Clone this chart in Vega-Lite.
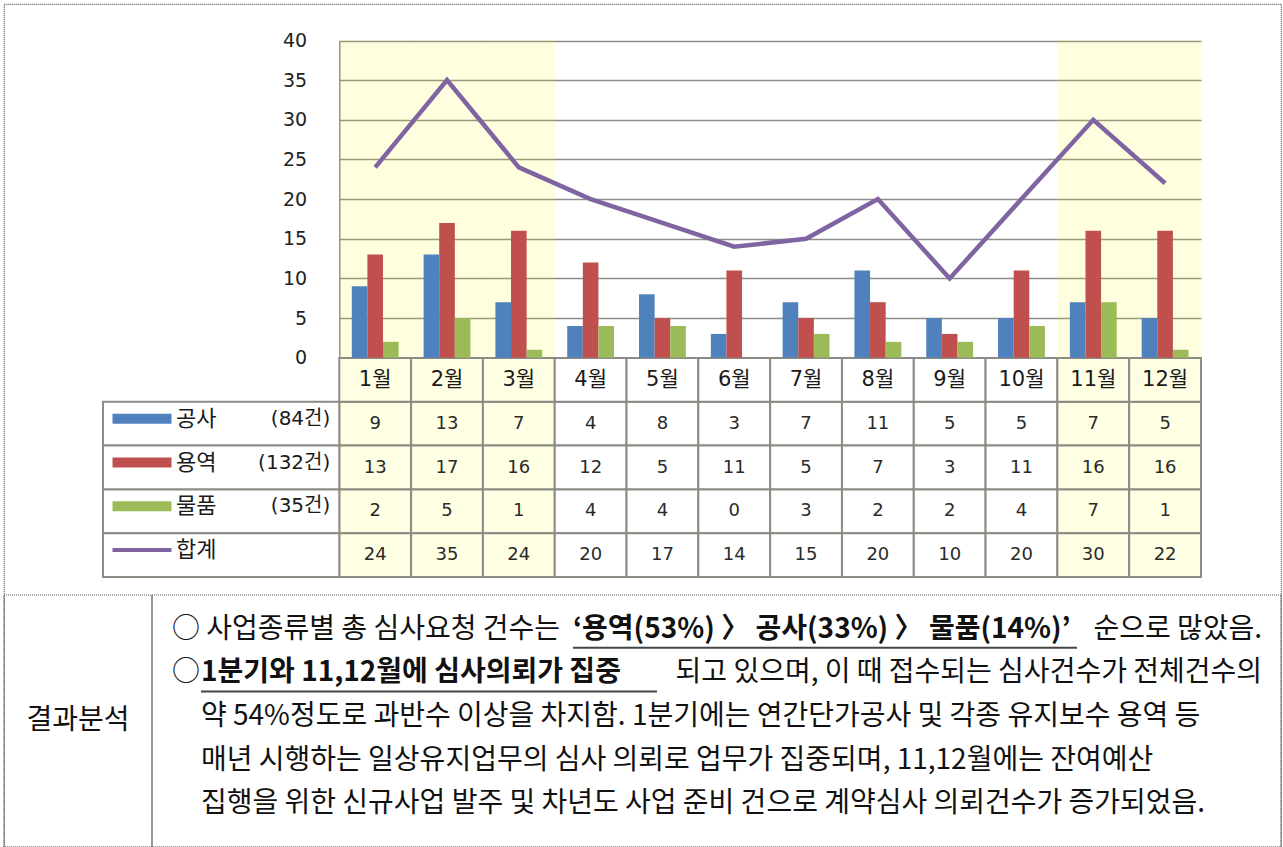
{
  "$schema": "https://vega.github.io/schema/vega-lite/v6.json",
  "width": 1277,
  "height": 843,
  "padding": {"left": 4, "top": 4, "right": 2, "bottom": 0},
  "autosize": {"type": "none"},
  "background": "#FFFFFF",
  "view": {"stroke": "#555555", "strokeDash": [1, 1], "strokeWidth": 1.2},
  "config": {"font": "DejaVu Sans"},
  "datasets": {
    "monthly": [
      {"month": "1월", "focus": "Y", "공사": 9, "용역": 13, "물품": 2, "합계": 24},
      {"month": "2월", "focus": "Y", "공사": 13, "용역": 17, "물품": 5, "합계": 35},
      {"month": "3월", "focus": "Y", "공사": 7, "용역": 16, "물품": 1, "합계": 24},
      {"month": "4월", "focus": "N", "공사": 4, "용역": 12, "물품": 4, "합계": 20},
      {"month": "5월", "focus": "N", "공사": 8, "용역": 5, "물품": 4, "합계": 17},
      {"month": "6월", "focus": "N", "공사": 3, "용역": 11, "물품": 0, "합계": 14},
      {"month": "7월", "focus": "N", "공사": 7, "용역": 5, "물품": 3, "합계": 15},
      {"month": "8월", "focus": "N", "공사": 11, "용역": 7, "물품": 2, "합계": 20},
      {"month": "9월", "focus": "N", "공사": 5, "용역": 3, "물품": 2, "합계": 10},
      {"month": "10월", "focus": "N", "공사": 5, "용역": 11, "물품": 4, "합계": 20},
      {"month": "11월", "focus": "Y", "공사": 7, "용역": 16, "물품": 7, "합계": 30},
      {"month": "12월", "focus": "Y", "공사": 5, "용역": 16, "물품": 1, "합계": 22}
    ],
    "legend": [
      {"type": "공사", "name": "공사", "total": "(84건)"},
      {"type": "용역", "name": "용역", "total": "(132건)"},
      {"type": "물품", "name": "물품", "total": "(35건)"},
      {"type": "합계", "name": "합계", "total": ""}
    ],
    "analysis": [{"item": "결과분석"}],
    "sentences": [
      {"line": 1, "part": "1a", "text": "○ 사업종류별 총 심사요청 건수는"},
      {"line": 1, "part": "1b", "text": "‘용역(53%) 〉 공사(33%) 〉 물품(14%)’"},
      {"line": 1, "part": "1c", "text": "순으로 많았음."},
      {"line": 2, "part": "2a", "text": "○"},
      {"line": 2, "part": "2b", "text": "1분기와 11,12월에 심사의뢰가 집중"},
      {"line": 2, "part": "2c", "text": "되고 있으며, 이 때 접수되는 심사건수가 전체건수의"},
      {"line": 3, "part": "3", "text": "약 54%정도로 과반수 이상을 차지함. 1분기에는 연간단가공사 및 각종 유지보수 용역 등"},
      {"line": 4, "part": "4", "text": "매년 시행하는 일상유지업무의 심사 의뢰로 업무가 집중되며, 11,12월에는 잔여예산"},
      {"line": 5, "part": "5", "text": "집행을 위한 신규사업 발주 및 차년도 사업 준비 건으로 계약심사 의뢰건수가 증가되었음."}
    ]
  },
  "resolve": {"scale": {"x": "independent", "y": "independent", "color": "independent", "xOffset": "independent"}},
  "layer": [
    {
      "data": {"name": "monthly"},
      "transform": [{"filter": "datum.focus === 'Y'"}],
      "mark": {"type": "rect", "fill": "#FFFF00", "fillOpacity": 0.12},
      "encoding": {
        "x": {"field": "month", "type": "ordinal", "scale": {"type": "band", "domain": ["1월","2월","3월","4월","5월","6월","7월","8월","9월","10월","11월","12월"], "range": [335.3, 1197], "paddingInner": 0, "paddingOuter": 0}, "axis": null},
        "y": {"datum": 0, "type": "quantitative", "scale": {"domain": [0, 40], "range": [353.7, 36.5]}, "axis": null},
        "y2": {"datum": 40}
      }
    },
    {
      "data": {"name": "monthly"},
      "transform": [{"fold": ["공사", "용역", "물품", "합계"], "as": ["type", "count"]}],
      "mark": {"type": "rect", "stroke": "#8C8C84", "strokeWidth": 2},
      "encoding": {
        "x": {"field": "month", "type": "ordinal", "scale": {"type": "band", "domain": ["1월","2월","3월","4월","5월","6월","7월","8월","9월","10월","11월","12월"], "range": [335.3, 1197], "paddingInner": 0, "paddingOuter": 0}, "axis": null},
        "y": {"field": "type", "type": "nominal", "scale": {"type": "band", "domain": ["월","공사","용역","물품","합계"], "range": [354, 573], "paddingInner": 0, "paddingOuter": 0}, "axis": null},
        "color": {"field": "focus", "type": "nominal", "scale": {"domain": ["Y", "N"], "range": ["#FFFFE3", "#FFFFFF"]}, "legend": null}
      }
    },
    {
      "data": {"name": "monthly"},
      "mark": {"type": "rect", "stroke": "#8C8C84", "strokeWidth": 2},
      "encoding": {
        "x": {"field": "month", "type": "ordinal", "scale": {"type": "band", "domain": ["1월","2월","3월","4월","5월","6월","7월","8월","9월","10월","11월","12월"], "range": [335.3, 1197], "paddingInner": 0, "paddingOuter": 0}, "axis": null},
        "y": {"datum": "월", "type": "nominal", "scale": {"type": "band", "domain": ["월","공사","용역","물품","합계"], "range": [354, 573], "paddingInner": 0, "paddingOuter": 0}, "axis": null},
        "color": {"field": "focus", "type": "nominal", "scale": {"domain": ["Y", "N"], "range": ["#FFFFE3", "#FFFFFF"]}, "legend": null}
      }
    },
    {
      "data": {"name": "legend"},
      "mark": {"type": "rect", "fill": "#FFFFFF", "stroke": "#8C8C84", "strokeWidth": 2},
      "encoding": {
        "x": {"datum": "범례", "type": "nominal", "scale": {"type": "band", "domain": ["범례"], "range": [99, 335.3], "paddingInner": 0, "paddingOuter": 0}, "axis": null},
        "y": {"field": "type", "type": "nominal", "scale": {"type": "band", "domain": ["월","공사","용역","물품","합계"], "range": [354, 573], "paddingInner": 0, "paddingOuter": 0}, "axis": null}
      }
    },
    {
      "data": {"name": "monthly"},
      "transform": [{"fold": ["공사", "용역", "물품"], "as": ["type", "count"]}],
      "mark": {"type": "bar"},
      "encoding": {
        "x": {"field": "month", "type": "ordinal", "scale": {"type": "band", "domain": ["1월","2월","3월","4월","5월","6월","7월","8월","9월","10월","11월","12월"], "range": [335.3, 1197], "paddingInner": 0, "paddingOuter": 0}, "axis": null},
        "xOffset": {"field": "type", "type": "nominal", "scale": {"type": "band", "domain": ["공사", "용역", "물품"], "paddingInner": 0, "paddingOuter": 0.8}},
        "y": {
          "field": "count", "type": "quantitative",
          "scale": {"domain": [0, 40], "range": [353.7, 36.5]},
          "axis": {"values": [0, 5, 10, 15, 20, 25, 30, 35, 40], "grid": true, "gridColor": "#8C8C8C", "gridWidth": 1.5, "domain": true, "domainColor": "#8C8C8C", "domainWidth": 1.5, "ticks": false, "labelPadding": 32.6, "offset": -335.3, "labelFont": "DejaVu Sans", "labelFontSize": 19, "labelColor": "#222222", "title": null}
        },
        "color": {"field": "type", "type": "nominal", "scale": {"domain": ["공사", "용역", "물품"], "range": ["#4F81BD", "#C0504D", "#9BBB59"]}, "legend": null}
      }
    },
    {
      "data": {"name": "monthly"},
      "mark": {"type": "line", "color": "#8064A2", "strokeWidth": 4.5},
      "encoding": {
        "x": {"field": "month", "type": "ordinal", "scale": {"type": "band", "domain": ["1월","2월","3월","4월","5월","6월","7월","8월","9월","10월","11월","12월"], "range": [335.3, 1197], "paddingInner": 0, "paddingOuter": 0}, "axis": null},
        "y": {"field": "합계", "type": "quantitative", "scale": {"domain": [0, 40], "range": [353.7, 36.5]}, "axis": null}
      }
    },
    {
      "data": {"name": "monthly"},
      "mark": {"type": "text", "font": "DejaVu Sans, Noto Sans CJK KR", "fontSize": 21, "color": "#1A1A1A", "baseline": "middle"},
      "encoding": {
        "x": {"field": "month", "type": "ordinal", "scale": {"type": "band", "domain": ["1월","2월","3월","4월","5월","6월","7월","8월","9월","10월","11월","12월"], "range": [335.3, 1197], "paddingInner": 0, "paddingOuter": 0}, "axis": null},
        "y": {"datum": "월", "type": "nominal", "scale": {"type": "band", "domain": ["월","공사","용역","물품","합계"], "range": [354, 573], "paddingInner": 0, "paddingOuter": 0}, "axis": null},
        "text": {"field": "month"}
      }
    },
    {
      "data": {"name": "monthly"},
      "transform": [{"fold": ["공사", "용역", "물품", "합계"], "as": ["type", "count"]}],
      "mark": {"type": "text", "font": "DejaVu Sans", "fontSize": 18, "color": "#2A2A2A", "baseline": "middle"},
      "encoding": {
        "x": {"field": "month", "type": "ordinal", "scale": {"type": "band", "domain": ["1월","2월","3월","4월","5월","6월","7월","8월","9월","10월","11월","12월"], "range": [335.3, 1197], "paddingInner": 0, "paddingOuter": 0}, "axis": null},
        "y": {"field": "type", "type": "nominal", "scale": {"type": "band", "domain": ["월","공사","용역","물품","합계"], "range": [354, 573], "paddingInner": 0, "paddingOuter": 0}, "axis": null},
        "text": {"field": "count", "type": "quantitative"}
      }
    },
    {
      "data": {"name": "legend"},
      "transform": [{"filter": "datum.type !== '합계'"}],
      "mark": {"type": "tick", "orient": "horizontal", "size": 59, "thickness": 10, "xOffset": -79.15, "yOffset": -5, "opacity": 1},
      "encoding": {
        "x": {"datum": "범례", "type": "nominal", "scale": {"type": "band", "domain": ["범례"], "range": [99, 335.3], "paddingInner": 0, "paddingOuter": 0}, "axis": null},
        "y": {"field": "type", "type": "nominal", "scale": {"type": "band", "domain": ["월","공사","용역","물품","합계"], "range": [354, 573], "paddingInner": 0, "paddingOuter": 0}, "axis": null},
        "color": {"field": "type", "type": "nominal", "scale": {"domain": ["공사", "용역", "물품"], "range": ["#4F81BD", "#C0504D", "#9BBB59"]}, "legend": null}
      }
    },
    {
      "data": {"name": "legend"},
      "transform": [{"filter": "datum.type === '합계'"}],
      "mark": {"type": "tick", "orient": "horizontal", "size": 59, "thickness": 4, "xOffset": -79.15, "yOffset": -5, "opacity": 1, "color": "#8064A2"},
      "encoding": {
        "x": {"datum": "범례", "type": "nominal", "scale": {"type": "band", "domain": ["범례"], "range": [99, 335.3], "paddingInner": 0, "paddingOuter": 0}, "axis": null},
        "y": {"field": "type", "type": "nominal", "scale": {"type": "band", "domain": ["월","공사","용역","물품","합계"], "range": [354, 573], "paddingInner": 0, "paddingOuter": 0}, "axis": null}
      }
    },
    {
      "data": {"name": "legend"},
      "mark": {"type": "text", "font": "DejaVu Sans, Noto Sans CJK KR", "fontSize": 22, "color": "#1A1A1A", "baseline": "middle", "align": "left", "dx": 73, "dy": -5},
      "encoding": {
        "x": {"datum": "범례", "type": "nominal", "bandPosition": 0, "scale": {"type": "band", "domain": ["범례"], "range": [99, 335.3], "paddingInner": 0, "paddingOuter": 0}, "axis": null},
        "y": {"field": "type", "type": "nominal", "scale": {"type": "band", "domain": ["월","공사","용역","물품","합계"], "range": [354, 573], "paddingInner": 0, "paddingOuter": 0}, "axis": null},
        "text": {"field": "name"}
      }
    },
    {
      "data": {"name": "legend"},
      "mark": {"type": "text", "font": "DejaVu Sans, Noto Sans CJK KR", "fontSize": 20, "color": "#1A1A1A", "baseline": "middle", "align": "right", "dx": -9, "dy": -5},
      "encoding": {
        "x": {"datum": "범례", "type": "nominal", "bandPosition": 1, "scale": {"type": "band", "domain": ["범례"], "range": [99, 335.3], "paddingInner": 0, "paddingOuter": 0}, "axis": null},
        "y": {"field": "type", "type": "nominal", "scale": {"type": "band", "domain": ["월","공사","용역","물품","합계"], "range": [354, 573], "paddingInner": 0, "paddingOuter": 0}, "axis": null},
        "text": {"field": "total"}
      }
    },
    {
      "data": {"name": "analysis"},
      "mark": {"type": "rect", "fill": "transparent", "stroke": "#555555", "strokeDash": [1, 1], "strokeWidth": 1.2},
      "encoding": {
        "x": {"field": "item", "type": "nominal", "scale": {"type": "band", "domain": ["결과분석"], "range": [0, 148], "paddingInner": 0, "paddingOuter": 0}, "axis": null},
        "y": {"field": "item", "type": "nominal", "scale": {"type": "band", "domain": ["결과분석"], "range": [591, 843], "paddingInner": 0, "paddingOuter": 0}, "axis": null}
      }
    },
    {
      "data": {"name": "analysis"},
      "mark": {"type": "rect", "fill": "transparent", "stroke": "#555555", "strokeDash": [1, 1], "strokeWidth": 1.2},
      "encoding": {
        "x": {"field": "item", "type": "nominal", "scale": {"type": "band", "domain": ["결과분석"], "range": [148, 1277], "paddingInner": 0, "paddingOuter": 0}, "axis": null},
        "y": {"field": "item", "type": "nominal", "scale": {"type": "band", "domain": ["결과분석"], "range": [591, 843], "paddingInner": 0, "paddingOuter": 0}, "axis": null}
      }
    },
    {
      "data": {"name": "analysis"},
      "mark": {"type": "text", "font": "Noto Sans CJK KR", "fontSize": 28, "color": "#111111", "baseline": "middle"},
      "encoding": {
        "x": {"field": "item", "type": "nominal", "scale": {"type": "band", "domain": ["결과분석"], "range": [0, 148], "paddingInner": 0, "paddingOuter": 0}, "axis": null},
        "y": {"field": "item", "type": "nominal", "scale": {"type": "band", "domain": ["결과분석"], "range": [591, 843], "paddingInner": 0, "paddingOuter": 0}, "axis": null},
        "text": {"field": "item"}
      }
    },
    {
      "data": {"name": "sentences"},
      "transform": [{"filter": {"field": "part", "oneOf": ["1a", "2a"]}}],
      "mark": {"type": "text", "font": "Noto Sans CJK KR", "fontSize": 28, "color": "#111111", "baseline": "middle", "align": "left", "dx": -470.5},
      "encoding": {
        "y": {"field": "line", "type": "ordinal", "scale": {"type": "band", "domain": [1, 2, 3, 4, 5], "range": [604, 822], "paddingInner": 0, "paddingOuter": 0}, "axis": null},
        "text": {"field": "text"}
      }
    },
    {
      "data": {"name": "sentences"},
      "transform": [{"filter": {"field": "part", "oneOf": ["3", "4", "5"]}}],
      "mark": {"type": "text", "font": "Noto Sans CJK KR", "fontSize": 28, "color": "#111111", "baseline": "middle", "align": "left", "dx": -441.5},
      "encoding": {
        "y": {"field": "line", "type": "ordinal", "scale": {"type": "band", "domain": [1, 2, 3, 4, 5], "range": [604, 822], "paddingInner": 0, "paddingOuter": 0}, "axis": null},
        "text": {"field": "text"}
      }
    },
    {
      "data": {"name": "sentences"},
      "transform": [{"filter": {"field": "part", "oneOf": ["2b"]}}],
      "mark": {"type": "text", "font": "Noto Sans CJK KR", "fontSize": 28, "fontWeight": "bold", "color": "#111111", "baseline": "middle", "align": "left", "dx": -441.5},
      "encoding": {
        "y": {"field": "line", "type": "ordinal", "scale": {"type": "band", "domain": [1, 2, 3, 4, 5], "range": [604, 822], "paddingInner": 0, "paddingOuter": 0}, "axis": null},
        "text": {"field": "text"}
      }
    },
    {
      "data": {"name": "sentences"},
      "transform": [{"filter": {"field": "part", "oneOf": ["1b"]}}],
      "mark": {"type": "text", "font": "Noto Sans CJK KR", "fontSize": 28, "fontWeight": "bold", "color": "#111111", "baseline": "middle", "align": "left", "dx": -69.5},
      "encoding": {
        "y": {"field": "line", "type": "ordinal", "scale": {"type": "band", "domain": [1, 2, 3, 4, 5], "range": [604, 822], "paddingInner": 0, "paddingOuter": 0}, "axis": null},
        "text": {"field": "text"}
      }
    },
    {
      "data": {"name": "sentences"},
      "transform": [{"filter": {"field": "part", "oneOf": ["1c", "2c"]}}],
      "mark": {"type": "text", "font": "Noto Sans CJK KR", "fontSize": 28, "color": "#111111", "baseline": "middle", "align": "right", "dx": 619.5},
      "encoding": {
        "y": {"field": "line", "type": "ordinal", "scale": {"type": "band", "domain": [1, 2, 3, 4, 5], "range": [604, 822], "paddingInner": 0, "paddingOuter": 0}, "axis": null},
        "text": {"field": "text"}
      }
    },
    {
      "data": {"name": "sentences"},
      "transform": [{"filter": {"field": "part", "oneOf": ["1b"]}}],
      "mark": {"type": "tick", "orient": "horizontal", "size": 504, "thickness": 2, "xOffset": 182.5, "yOffset": 18, "opacity": 1, "color": "#444444"},
      "encoding": {
        "y": {"field": "line", "type": "ordinal", "scale": {"type": "band", "domain": [1, 2, 3, 4, 5], "range": [604, 822], "paddingInner": 0, "paddingOuter": 0}, "axis": null}
      }
    },
    {
      "data": {"name": "sentences"},
      "transform": [{"filter": {"field": "part", "oneOf": ["2b"]}}],
      "mark": {"type": "tick", "orient": "horizontal", "size": 456, "thickness": 2, "xOffset": -213.5, "yOffset": 18, "opacity": 1, "color": "#444444"},
      "encoding": {
        "y": {"field": "line", "type": "ordinal", "scale": {"type": "band", "domain": [1, 2, 3, 4, 5], "range": [604, 822], "paddingInner": 0, "paddingOuter": 0}, "axis": null}
      }
    }
  ]
}
